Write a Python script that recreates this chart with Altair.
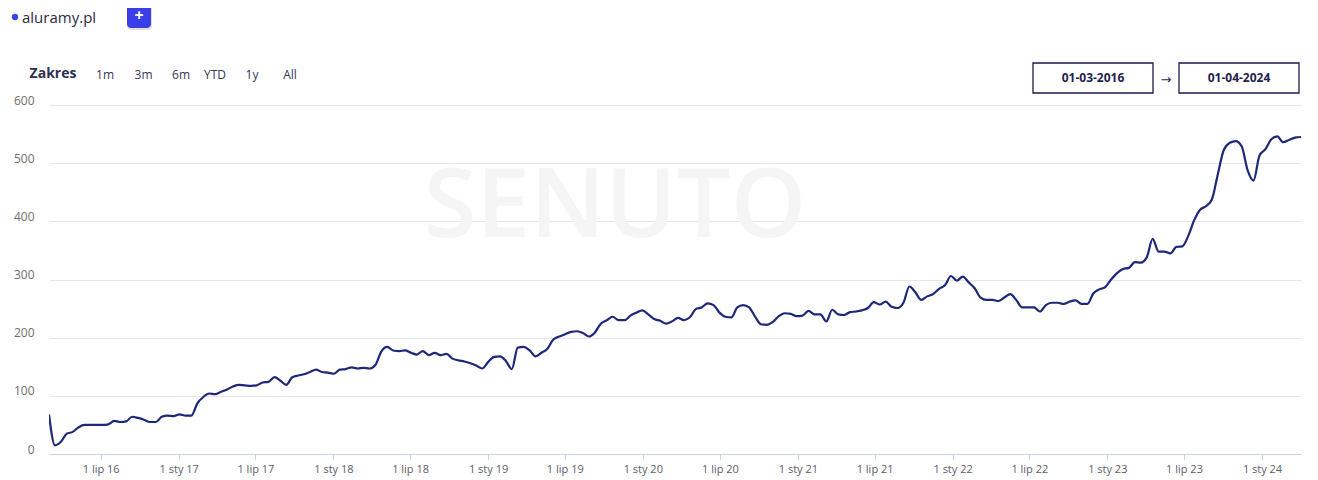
import altair as alt
import pandas as pd

# ---- data (bi-weekly samples from 2016-03-01) ----
start_date = "2016-03-01"
values = [
    68, 15, 21, 35, 38, 46, 50, 50, 50, 50,
    51, 57, 55, 56, 64, 62, 59, 55, 55, 64,
    66, 65, 68, 66, 66, 87, 98, 104, 103, 107,
    111, 116, 119, 118, 117, 118, 123, 124, 132, 126,
    119, 132, 135, 137, 141, 145, 141, 140, 138, 145,
    146, 149, 147, 148, 147, 153, 176, 184, 178, 177,
    178, 174, 171, 177, 170, 174, 170, 172, 164, 161,
    159, 156, 152, 147, 158, 167, 168, 160, 146, 183,
    184, 178, 168, 174, 181, 197, 202, 206, 210, 211,
    208, 202, 209, 224, 230, 236, 230, 230, 238, 243,
    247, 240, 232, 229, 224, 228, 234, 230, 235, 249,
    252, 259, 256, 243, 236, 235, 252, 256, 252, 236,
    223, 222, 227, 237, 242, 241, 237, 238, 246, 240,
    240, 228, 248, 240, 239, 244, 245, 247, 251, 261,
    257, 262, 253, 251, 260, 288, 278, 265, 271, 275,
    284, 290, 306, 298, 305, 295, 285, 269, 265, 265,
    263, 269, 275, 265, 252, 252, 252, 245, 256, 260,
    260, 258, 262, 264, 258, 258, 276, 283, 287, 300,
    311, 318, 320, 330, 329, 338, 370, 348, 348, 345,
    356, 357, 375, 402, 420, 426, 438, 482, 523, 535,
    538, 529, 488, 470, 513, 524, 541, 546, 536, 540,
    544, 545,
]
tick_dates = [
    "2016-07-01", "2017-01-01", "2017-07-01", "2018-01-01", "2018-07-01",
    "2019-01-01", "2019-07-01", "2020-01-01", "2020-07-01", "2021-01-01",
    "2021-07-01", "2022-01-01", "2022-07-01", "2023-01-01", "2023-07-01",
    "2024-01-01",
]
y_ticks = [0, 100, 200, 300, 400, 500, 600]
domain_start = "2016-03-01"
domain_end = "2024-04-02"
site_name = "aluramy.pl"
range_title = "Zakres"
range_buttons = ["1m", "3m", "6m", "YTD", "1y", "All"]
date_from = "01-03-2016"
date_to = "01-04-2024"

dates = pd.date_range(start_date, periods=len(values), freq="14D")
df = pd.DataFrame({"date": dates, "value": values})


def dt(s):
    y, m, d = (int(p) for p in s.split("-"))
    return alt.DateTime(year=y, month=m, date=d)


FONT = "Open Sans"
one = pd.DataFrame({"a": [0]})

W, H = 1252, 349

watermark = alt.Chart(one).mark_text(
    text="SENUTO", font=FONT, fontSize=96, fontWeight=600, color="#f5f5f5",
    align="center", baseline="middle"
).encode(x=alt.value(566), y=alt.value(103))

line = alt.Chart(df).mark_line(
    color="#1e287a", strokeWidth=2.2, interpolate="monotone", clip=True
).encode(
    x=alt.X("date:T",
            scale=alt.Scale(domain=[dt(domain_start), dt(domain_end)]),
            axis=alt.Axis(values=[dt(s) for s in tick_dates],
                          labelExpr="(month(datum.value)==0 ? '1 sty ' : '1 lip ') + timeFormat(datum.value, '%y')",
                          grid=False, domainColor="#c9d4ea", tickColor="#c9d4ea",
                          tickSize=6, labelPadding=3, labelFontSize=11,
                          labelColor="#5d5d68", labelFont=FONT, labelFlush=False,
                          labelOverlap=False, title=None)),
    y=alt.Y("value:Q",
            scale=alt.Scale(domain=[0, 600], nice=False),
            axis=alt.Axis(values=y_ticks, grid=True, gridColor="#e6e6e6",
                          domain=False, ticks=False, labelPadding=15,
                          labelFontSize=12, labelColor="#736d69", labelFont=FONT,
                          labelOffset=-5, title=None)),
)

layers = [watermark, line]

# header: site legend
layers.append(alt.Chart(one).mark_point(filled=True, size=40, color="#3b44e8", opacity=1)
              .encode(x=alt.value(-34), y=alt.value(-88)))
layers.append(alt.Chart(one).mark_text(text=site_name, font=FONT, fontSize=15, color="#2b2b3f",
                                       align="left", baseline="middle")
              .encode(x=alt.value(-27), y=alt.value(-87)))
# + button with soft shadow
layers.append(alt.Chart(one).mark_rect(color="#000000", opacity=0.12, cornerRadius=4)
              .encode(x=alt.value(78), x2=alt.value(103), y=alt.value(-100), y2=alt.value(-75)))
layers.append(alt.Chart(one).mark_rect(color="#3a3ee8", cornerRadius=4)
              .encode(x=alt.value(78), x2=alt.value(102), y=alt.value(-101), y2=alt.value(-77)))
layers.append(alt.Chart(one).mark_text(text="+", font=FONT, fontSize=16, fontWeight="bold",
                                       color="#ffffff", align="center", baseline="middle")
              .encode(x=alt.value(90), y=alt.value(-89)))
# range selector
layers.append(alt.Chart(one).mark_text(text=range_title, font=FONT, fontSize=14, fontWeight="bold",
                                       color="#2e2f52", align="center", baseline="middle")
              .encode(x=alt.value(4), y=alt.value(-31)))
btn_x = [56, 94.5, 132, 166, 203, 241]
for label, bx in zip(range_buttons, btn_x):
    layers.append(alt.Chart(one).mark_text(text=label, font=FONT, fontSize=12, color="#33365a",
                                           align="center", baseline="middle")
                  .encode(x=alt.value(bx), y=alt.value(-30)))
# date boxes
for x0, x1, txt in [(984, 1104, date_from), (1130, 1250, date_to)]:
    layers.append(alt.Chart(one).mark_rect(fill="#ffffff", stroke="#1a1a4a", strokeWidth=1.3)
                  .encode(x=alt.value(x0), x2=alt.value(x1), y=alt.value(-42), y2=alt.value(-12)))
    layers.append(alt.Chart(one).mark_text(text=txt, font=FONT, fontSize=12, fontWeight="bold",
                                           color="#1f1f4d", align="center", baseline="middle")
                  .encode(x=alt.value((x0 + x1) / 2), y=alt.value(-27)))
layers.append(alt.Chart(one).mark_text(text="→", font="DejaVu Sans", fontSize=13, color="#1f1f4d",
                                       align="center", baseline="middle")
              .encode(x=alt.value(1117), y=alt.value(-25)))

chart = alt.layer(*layers).properties(
    width=W, height=H,
    autosize=alt.AutoSizeParams(type="none"),
    padding={"left": 41, "top": 97, "right": 9, "bottom": 22},
).configure(background="#ffffff").configure_view(stroke=None)

chart.save("out.html", embed_options={"renderer": "svg", "actions": False})
